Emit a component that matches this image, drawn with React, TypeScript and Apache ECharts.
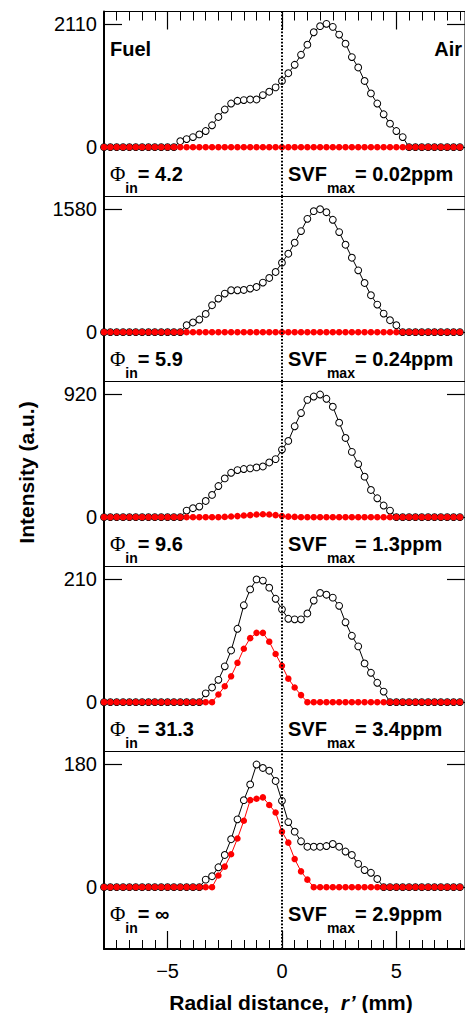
import React, { useEffect, useRef } from 'react';
import * as echarts from 'echarts';

// Radial sampling positions (mm): regular camera pixel grid, index k = -28..28, step 5/18 mm
const radialPositionsMm: number[] = Array.from({ length: 57 }, (_, i) => ((i - 28) * 5) / 18);

// Panel annotations
const phiInLabels = ['4.2', '5.9', '9.6', '31.3', '∞'];
const svfMaxLabels = ['0.02ppm', '0.24ppm', '1.3ppm', '3.4ppm', '2.9ppm'];
const intensityTickMax = [2110, 1580, 920, 210, 180];
const xTickLabels = [-5, 0, 5];

// Total signal (open circles): first index k and values (zeros elsewhere)
const totalStartK = [-16, -15, -15, -12, -12];
const total42 = [103, 138, 172, 218, 276, 374, 517, 644, 747, 793, 805, 816, 816, 891, 949, 1023, 1133, 1265, 1409, 1581, 1754, 1966, 2070, 2110, 2058, 1926, 1771, 1541, 1363, 1133, 920, 747, 563, 402, 276, 172];
const total59 = [89, 124, 162, 234, 345, 430, 494, 537, 537, 541, 558, 579, 635, 694, 771, 890, 1005, 1146, 1295, 1452, 1550, 1575, 1537, 1440, 1282, 1120, 954, 792, 630, 473, 353, 238, 153, 89];
const total96 = [49, 67, 79, 121, 166, 232, 289, 331, 351, 359, 364, 371, 378, 408, 433, 504, 569, 678, 777, 875, 900, 915, 883, 824, 705, 591, 487, 396, 302, 203, 141, 87, 49];
const total313 = [15, 25, 38, 61, 88, 125, 165, 192, 209, 207, 195, 176, 158, 142, 141, 141, 151, 173, 186, 183, 178, 164, 136, 113, 95, 66, 50, 33, 18];
const totalInf = [11, 16, 29, 47, 70, 99, 127, 150, 179, 174, 170, 155, 126, 95, 81, 67, 59, 59, 59, 60, 63, 59, 52, 47, 34, 25, 21, 12];

// Soot signal (filled red): first index k and values (zeros elsewhere)
const sootStartK = [0, 0, -9, -10, -10];
const soot42: number[] = [];
const soot59: number[] = [];
const soot96 = [2, 5, 8, 12, 15, 20, 22, 20, 15, 8, 4, 2];
const soot313 = [13, 27, 44, 67, 91, 109, 118, 118, 103, 82, 62, 40, 25, 12];
const sootInf = [17, 30, 48, 71, 97, 127, 129, 131, 120, 109, 81, 65, 41, 23, 11];

const totalSets = [total42, total59, total96, total313, totalInf];
const sootSets = [soot42, soot59, soot96, soot313, sootInf];

// Layout
const FONT = '"Liberation Sans", Arial, Helvetica, sans-serif';
const GRID_LEFT = 104;
const GRID_W = 362;
const panelTops = [11.5, 196.5, 381.5, 566.5, 751.5];
const panelHeights = [185, 185, 185, 185, 197.5];
const X_MIN = -70 / 9;
const X_MAX = 8;
const MINOR = 5 / 9;

function expand(startK: number, vals: number[]): number[][] {
  return radialPositionsMm.map((x, i) => {
    const k = i - 28;
    const j = k - startK;
    const v = j >= 0 && j < vals.length ? vals[j] : 0;
    return [x, v];
  });
}

const mainRich = { fontFamily: FONT, fontSize: 20, fontWeight: 'bold', lineHeight: 20, verticalAlign: 'top', fill: '#000' };
const subRich = { fontFamily: FONT, fontSize: 14, fontWeight: 'bold', lineHeight: 31, verticalAlign: 'bottom', fill: '#000' };

function buildOption(): echarts.EChartsCoreOption {
  const grids: any[] = [];
  const xAxes: any[] = [];
  const yAxes: any[] = [];
  const series: any[] = [];
  const graphics: any[] = [];

  for (let i = 0; i < 5; i++) {
    grids.push({
      left: GRID_LEFT,
      top: panelTops[i],
      width: GRID_W,
      height: panelHeights[i],
      show: true,
      borderColor: '#000',
      borderWidth: 1,
      backgroundColor: 'transparent',
    });
    xAxes.push({
      type: 'value',
      gridIndex: i,
      min: X_MIN,
      max: X_MAX,
      interval: MINOR,
      position: 'bottom',
      axisLine: { show: false, onZero: false },
      axisTick: { show: i === 4, inside: true, length: 9, lineStyle: { color: '#000', width: 1 } },
      axisLabel: { show: false },
      splitLine: { show: false },
    });
    const M = intensityTickMax[i];
    const extraBottom = (panelHeights[i] - 185) / 185 * 1.5 * M;
    const yMin = -0.4 * M - extraBottom;
    const yMax = 1.1 * M;
    yAxes.push({
      type: 'value',
      gridIndex: i,
      min: yMin,
      max: yMax,
      position: 'left',
      axisLine: { show: true, onZero: false, lineStyle: { color: '#000', width: 2 } },
      axisTick: { show: true, inside: true, length: 18, customValues: [0, M], lineStyle: { color: '#000', width: 1.2 } },
      axisLabel: {
        show: true,
        customValues: [0, M],
        formatter: (v: number) => String(v),
        margin: 7,
        fontSize: 20,
        color: '#000',
        fontFamily: FONT,
      },
      splitLine: { show: false },
    });
    yAxes.push({
      type: 'value',
      gridIndex: i,
      min: yMin,
      max: yMax,
      position: 'right',
      axisLine: { show: false, onZero: false },
      axisTick: { show: true, inside: true, length: 18, customValues: [0, M], lineStyle: { color: '#000', width: 1.2 } },
      axisLabel: { show: false },
      splitLine: { show: false },
    });

    series.push({
      type: 'line',
      xAxisIndex: i,
      yAxisIndex: 2 * i,
      data: expand(totalStartK[i], totalSets[i]),
      symbol: 'circle',
      symbolSize: 6.8,
      showSymbol: true,
      showAllSymbol: true,
      lineStyle: { color: '#000', width: 1 },
      itemStyle: { color: '#fff', borderColor: '#000', borderWidth: 1 },
      z: 2,
      markLine: {
        silent: true,
        symbol: ['none', 'none'],
        label: { show: false },
        lineStyle: { color: '#000', width: 2, type: [1.7, 1.7] },
        data: [{ xAxis: 0 }],
        z: 5,
      },
    });
    series.push({
      type: 'line',
      xAxisIndex: i,
      yAxisIndex: 2 * i,
      data: expand(sootStartK[i], sootSets[i]),
      symbol: 'circle',
      symbolSize: 6.5,
      showSymbol: true,
      showAllSymbol: true,
      lineStyle: { color: '#ff0000', width: 1 },
      itemStyle: { color: '#ff0000', borderWidth: 0 },
      z: 3,
    });

    const top = panelTops[i];
    graphics.push({
      type: 'text',
      x: 110,
      y: top + 152,
      z: 10,
      style: {
        text: `{phi|Φ}{sub|in}{b|= ${phiInLabels[i]}}`,
        align: 'left',
        verticalAlign: 'top',
        fill: '#000',
        rich: {
          phi: { fontFamily: '"Liberation Serif", "Times New Roman", serif', fontSize: 21, fontWeight: 'normal', lineHeight: 20, verticalAlign: 'top', fill: '#000' },
          sub: subRich,
          b: mainRich,
        },
      },
    });
    graphics.push({
      type: 'text',
      x: 288,
      y: top + 152,
      z: 10,
      style: {
        text: `{b|SVF}{sub|max}{b|= ${svfMaxLabels[i]}}`,
        align: 'left',
        verticalAlign: 'top',
        fill: '#000',
        rich: { sub: subRich, b: mainRich },
      },
    });
  }

  // Top axis of first panel (minor + major ticks)
  xAxes.push({
    type: 'value', gridIndex: 0, min: X_MIN, max: X_MAX, interval: MINOR, position: 'top',
    axisLine: { show: false, onZero: false },
    axisTick: { show: true, inside: true, length: 9, lineStyle: { color: '#000', width: 1 } },
    axisLabel: { show: false }, splitLine: { show: false },
  });
  xAxes.push({
    type: 'value', gridIndex: 0, min: X_MIN, max: X_MAX, position: 'top',
    axisLine: { show: false, onZero: false },
    axisTick: { show: true, inside: true, length: 18, customValues: xTickLabels, lineStyle: { color: '#000', width: 1.2 } },
    axisLabel: { show: false }, splitLine: { show: false },
  });
  // Bottom axis of last panel (major ticks + labels)
  xAxes.push({
    type: 'value', gridIndex: 4, min: X_MIN, max: X_MAX, position: 'bottom',
    axisLine: { show: true, onZero: false, lineStyle: { color: '#000', width: 2 } },
    axisTick: { show: true, inside: true, length: 18, customValues: xTickLabels, lineStyle: { color: '#000', width: 1.2 } },
    axisLabel: {
      show: true,
      customValues: xTickLabels,
      formatter: (v: number) => (v < 0 ? '\u2212' + Math.abs(v) : String(v)),
      margin: 12,
      fontSize: 20,
      color: '#000',
      fontFamily: FONT,
    },
    splitLine: { show: false },
  });

  graphics.push({
    type: 'text', x: 110, y: 49, z: 10,
    style: { text: 'Fuel', font: `bold 20px ${FONT}`, fill: '#000', align: 'left', verticalAlign: 'middle' },
  });
  graphics.push({
    type: 'text', x: 462, y: 49, z: 10,
    style: { text: 'Air', font: `bold 20px ${FONT}`, fill: '#000', align: 'right', verticalAlign: 'middle' },
  });
  graphics.push({
    type: 'text', x: 26, y: 472.5, rotation: Math.PI / 2, z: 10,
    style: { text: 'Intensity (a.u.)', font: `bold 21px ${FONT}`, fill: '#000', align: 'center', verticalAlign: 'middle' },
  });
  graphics.push({
    type: 'text', x: 291, y: 1002, z: 10,
    style: {
      text: '{b|Radial distance,  }{i|r\u2019}{b| (mm)}',
      align: 'center',
      verticalAlign: 'middle',
      fill: '#000',
      rich: {
        b: { fontFamily: FONT, fontSize: 21, fontWeight: 'bold', fill: '#000', lineHeight: 24 },
        i: { fontFamily: FONT, fontSize: 21, fontWeight: 'bold', fontStyle: 'italic', fill: '#000', lineHeight: 24 },
      },
    },
  });

  return {
    animation: false,
    backgroundColor: '#fff',
    textStyle: { fontFamily: FONT },
    grid: grids,
    xAxis: xAxes,
    yAxis: yAxes,
    series,
    graphic: graphics,
  };
}

export default function App() {
  const ref = useRef<HTMLDivElement>(null);
  useEffect(() => {
    if (!ref.current) return;
    const chart = echarts.init(ref.current, null, { renderer: 'svg' });
    chart.setOption(buildOption());
    return () => chart.dispose();
  }, []);
  return (
    <div
      ref={ref}
      style={{ position: 'absolute', left: 0, top: 0, width: 465, height: 1013, background: '#fff' }}
    />
  );
}
